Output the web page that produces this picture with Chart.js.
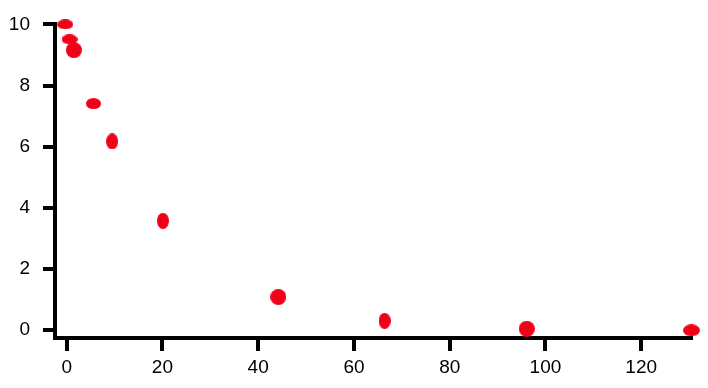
<!DOCTYPE html>
<html>
<head>
<meta charset="utf-8">
<script src="https://cdn.jsdelivr.net/npm/chart.js@4.4.1/dist/chart.umd.min.js"></script>
<style>
    html, body { margin: 0; padding: 0; background: #fff; }
    #grafico { display: block; }
</style>
</head>
<body>
<canvas id="grafico" width="708" height="388"></canvas>
<script>
// valores
const valoresX = [-0.3, 0.6, 1.5, 5.6, 9.5, 20.1, 44.2, 66.4, 96.1, 130.5];
const valoresY = [10.0, 9.51, 9.16, 7.41, 6.17, 3.57, 1.08, 0.30, 0.04, -0.01];
const ticksX = [0, 20, 40, 60, 80, 100, 120];
const ticksY = [0, 2, 4, 6, 8, 10];

// formato de cada marcador (largura x altura, px)
const formatos = [
    [16, 10], [16, 10], [16, 16], [15, 11], [12, 16],
    [12, 16], [16, 16], [12, 16], [16, 16], [17, 12]
];

const vermelho = "rgb(242, 0, 24)";
const fonte = { family: "'Liberation Sans', Arial, Helvetica, sans-serif", size: 19 };

function criarElipse(largura, altura) {
    const c = document.createElement("canvas");
    c.width = largura;
    c.height = altura;
    const ctx = c.getContext("2d");
    ctx.fillStyle = vermelho;
    ctx.beginPath();
    ctx.ellipse(largura / 2, altura / 2, largura / 2, altura / 2, 0, 0, Math.PI * 2);
    ctx.fill();
    return c;
}

const marcadores = formatos.map(f => criarElipse(f[0], f[1]));
const pontos = valoresX.map((x, i) => ({ x, y: valoresY[i] }));

new Chart(document.getElementById("grafico"), {
    type: "scatter",
    data: {
        datasets: [{
            data: pontos,
            pointStyle: ctx => marcadores[ctx.dataIndex],
            backgroundColor: vermelho,
            borderWidth: 0,
            clip: false
        }]
    },
    options: {
        responsive: false,
        animation: false,
        layout: {
            padding: { left: 0, top: 22, right: 17, bottom: 0 }
        },
        plugins: {
            legend: { display: false },
            tooltip: { enabled: false }
        },
        scales: {
            x: {
                type: "linear",
                min: -2.44,
                max: 130.4,
                afterBuildTicks: scale => {
                    scale.ticks = ticksX.map(v => ({ value: v }));
                },
                afterFit: scale => {
                    scale.height = 50;
                },
                border: { display: true, color: "#000", width: 4 },
                grid: {
                    drawOnChartArea: false,
                    drawTicks: true,
                    tickLength: 13,
                    color: "#000",
                    lineWidth: 4
                },
                ticks: {
                    color: "#000",
                    font: fonte,
                    padding: 5,
                    maxRotation: 0
                }
            },
            y: {
                type: "linear",
                min: -0.26,
                max: 10,
                afterBuildTicks: scale => {
                    scale.ticks = ticksY.map(v => ({ value: v }));
                },
                afterFit: scale => {
                    scale.width = 55;
                },
                border: { display: true, color: "#000", width: 4 },
                grid: {
                    drawOnChartArea: false,
                    drawTicks: true,
                    tickLength: 12,
                    color: "#000",
                    lineWidth: 4
                },
                ticks: {
                    color: "#000",
                    font: fonte,
                    padding: 13
                }
            }
        }
    }
});
</script>
</body>
</html>
